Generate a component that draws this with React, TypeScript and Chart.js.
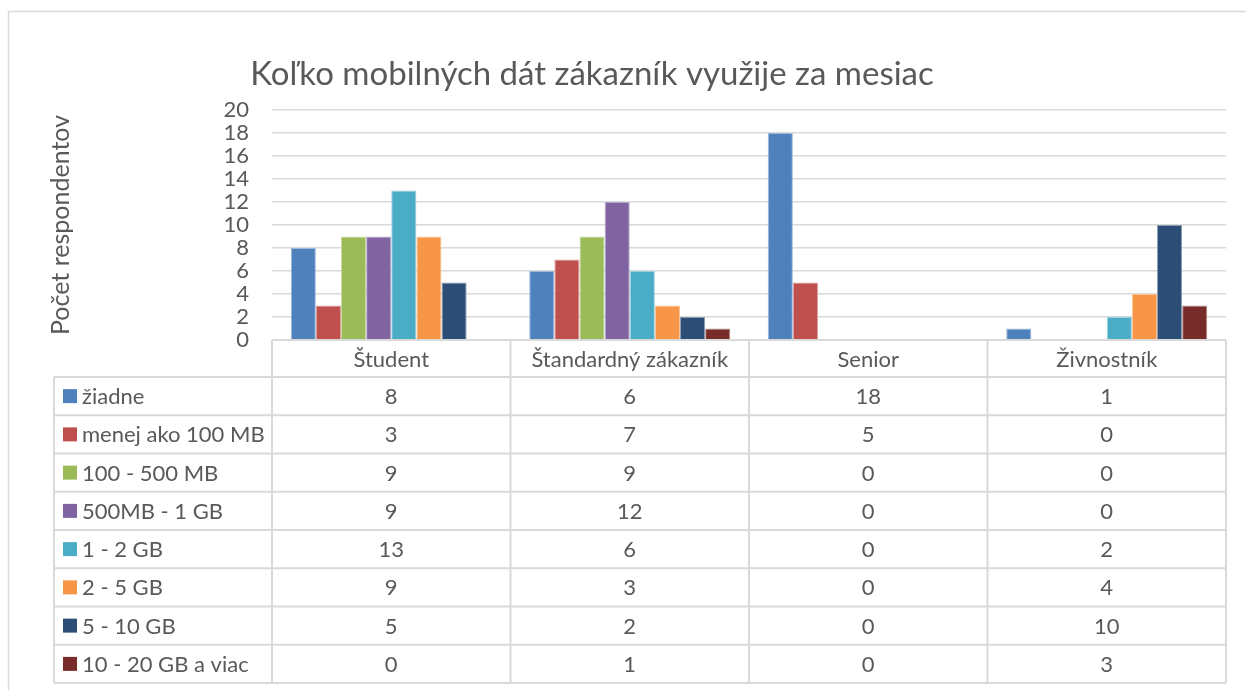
import React, { useEffect, useRef } from "react";
import { Chart, registerables } from "chart.js";

Chart.register(...registerables);

// ---------- data ----------
const chartTitle = "Koľko mobilných dát zákazník využije za mesiac";
const yAxisTitle = "Počet respondentov";
const categories = ["Študent", "Štandardný zákazník", "Senior", "Živnostník"];
const seriesNames = [
  "žiadne",
  "menej ako 100 MB",
  "100 - 500 MB",
  "500MB - 1 GB",
  "1 - 2 GB",
  "2 - 5 GB",
  "5 - 10 GB",
  "10 - 20 GB a viac",
];
const ziadne = [8, 6, 18, 1];
const menejAko100MB = [3, 7, 5, 0];
const mb100to500 = [9, 9, 0, 0];
const mb500to1GB = [9, 12, 0, 0];
const gb1to2 = [13, 6, 0, 2];
const gb2to5 = [9, 3, 0, 4];
const gb5to10 = [5, 2, 0, 10];
const gb10to20 = [0, 1, 0, 3];
const seriesValues = [ziadne, menejAko100MB, mb100to500, mb500to1GB, gb1to2, gb2to5, gb5to10, gb10to20];
const yMin = 0;
const yMax = 20;
const yStep = 2;

// ---------- style ----------
const seriesColors = ["#4F81BD", "#C0504D", "#9BBB59", "#8064A2", "#4BACC6", "#F79646", "#2C4D75", "#772C2A"];
const TEXT = "#595959";
const LINE = "#D9D9D9";
const FONT = "Lato, 'Open Sans', sans-serif";
const TABLE_SIZE = 22;

function tint(hex: string, amt: number): string {
  const n = parseInt(hex.slice(1), 16);
  const r = (n >> 16) & 255, g = (n >> 8) & 255, b = n & 255;
  const m = (c: number) => Math.round(c + (255 - c) * amt);
  return `rgb(${m(r)},${m(g)},${m(b)})`;
}

const tablePlugin = {
  id: "dataTable",
  afterDraw(chart: any) {
    const ctx: CanvasRenderingContext2D = chart.ctx;
    const area = chart.chartArea;
    const xScale = chart.scales.x;
    const n = categories.length;
    const colW = (area.right - area.left) / n;
    const headerTop = area.bottom;
    const headerH = 37;
    const rowH = 38.25;
    const tableLeft = 54;
    const rowsTop = headerTop + headerH;
    const rowsBottom = rowsTop + rowH * seriesNames.length;

    ctx.save();
    // outer chart border
    ctx.strokeStyle = LINE;
    ctx.lineWidth = 1.5;
    ctx.beginPath();
    ctx.moveTo(8.5, chart.height + 2);
    ctx.lineTo(8.5, 11.5);
    ctx.lineTo(chart.width + 2, 11.5);
    ctx.stroke();

    // title
    ctx.fillStyle = TEXT;
    ctx.font = `33px ${FONT}`;
    ctx.textAlign = "center";
    ctx.textBaseline = "middle";
    ctx.fillText(chartTitle, 592, 74);

    // table lines
    ctx.strokeStyle = LINE;
    ctx.lineWidth = 2;
    ctx.beginPath();
    ctx.moveTo(area.left, headerTop);
    ctx.lineTo(area.right, headerTop);
    for (let i = 0; i <= seriesNames.length; i++) {
      const y = rowsTop + i * rowH;
      ctx.moveTo(tableLeft, y);
      ctx.lineTo(area.right, y);
    }
    ctx.moveTo(tableLeft, rowsTop);
    ctx.lineTo(tableLeft, rowsBottom);
    for (let c = 0; c <= n; c++) {
      const x = area.left + c * colW;
      ctx.moveTo(x, headerTop);
      ctx.lineTo(x, rowsBottom);
    }
    ctx.stroke();

    // header labels
    ctx.fillStyle = TEXT;
    ctx.font = `${TABLE_SIZE}px ${FONT}`;
    ctx.textAlign = "center";
    ctx.textBaseline = "middle";
    categories.forEach((cat, c) => {
      const x = xScale.getPixelForValue(c);
      ctx.fillText(cat, x, headerTop + headerH / 2 + 1);
    });

    // rows
    chart.data.datasets.forEach((ds: any, i: number) => {
      const cy = rowsTop + i * rowH + rowH / 2;
      ctx.fillStyle = ds.backgroundColor;
      ctx.fillRect(63, cy - 7, 14, 14);
      ctx.fillStyle = TEXT;
      ctx.textAlign = "left";
      ctx.fillText(ds.label, 82, cy + 1);
      ctx.textAlign = "center";
      ds.data.forEach((v: number, c: number) => {
        ctx.fillText(String(v), xScale.getPixelForValue(c), cy + 1);
      });
    });
    ctx.restore();
  },
};

export default function App() {
  const canvasRef = useRef<HTMLCanvasElement | null>(null);

  useEffect(() => {
    const canvas = canvasRef.current;
    if (!canvas) return;
    const chart = new Chart(canvas, {
      type: "bar",
      data: {
        labels: categories,
        datasets: seriesNames.map((name, i) => ({
          label: name,
          data: seriesValues[i],
          backgroundColor: seriesColors[i],
          borderColor: tint(seriesColors[i], 0.45),
          borderWidth: { left: 1, right: 1, top: 1, bottom: 0 },
          categoryPercentage: 0.843,
          barPercentage: 1,
        })),
      },
      options: {
        animation: false,
        responsive: false,
        maintainAspectRatio: false,
        devicePixelRatio: 1,
        layout: { padding: { left: 46, top: 110, right: 20, bottom: 350 } },
        plugins: {
          legend: { display: false },
          title: { display: false },
          tooltip: { enabled: false },
        },
        scales: {
          x: {
            display: false,
            grid: { display: false },
          },
          y: {
            min: yMin,
            max: yMax,
            afterFit: (scale: any) => {
              scale.width = 226;
            },
            ticks: {
              stepSize: yStep,
              autoSkip: false,
              color: TEXT,
              padding: 23,
              font: { family: FONT, size: 22 },
            },
            grid: {
              color: LINE,
              lineWidth: 1.5,
              drawTicks: false,
            },
            border: { display: false },
            title: {
              display: true,
              text: yAxisTitle,
              color: TEXT,
              padding: 0,
              font: { family: FONT, size: 25 },
            },
          },
        },
      },
      plugins: [tablePlugin],
    });
    return () => chart.destroy();
  }, []);

  return (
    <div style={{ position: "absolute", left: 0, top: 0, width: 1246, height: 690, background: "#fff", overflow: "hidden" }}>
      <canvas ref={canvasRef} width={1246} height={690} style={{ display: "block", width: 1246, height: 690 }} />
    </div>
  );
}
